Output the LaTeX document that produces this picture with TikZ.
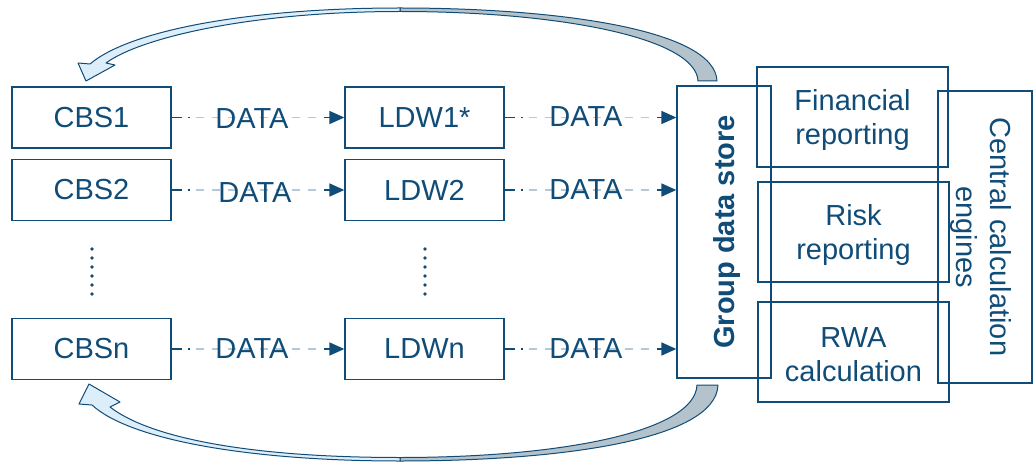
\documentclass[tikz,border=0pt]{standalone}
\usepackage{fontspec}
\setmainfont{Liberation Sans}
\usetikzlibrary{arrows.meta}
\definecolor{dkblue}{HTML}{104C78}
\definecolor{ltdash}{HTML}{B4C8D6}
\definecolor{ribgray}{HTML}{B3C2CB}
\definecolor{ribblue}{HTML}{DDEEFB}
\newcommand{\bigfont}{\fontsize{29}{34}\selectfont}
\begin{document}
\begin{tikzpicture}[x=1pt,y=-1pt,
  box/.style={draw=dkblue, line width=1.3pt, minimum width=159pt, minimum height=61pt, inner sep=0pt, text=dkblue, font=\bigfont, align=center},
  tallbox/.style={draw=dkblue, line width=1.3pt, minimum width=292pt, minimum height=94pt, inner sep=0pt},
  fbox/.style={draw=dkblue, line width=1.3pt, minimum width=191pt, minimum height=100pt, inner sep=0pt},
  ftext/.style={text=dkblue, font=\bigfont, align=center, inner sep=0pt},
  vtext/.style={text=dkblue, align=center, inner sep=0pt},
  datalabel/.style={text=dkblue, font=\bigfont, inner sep=0pt},
  dataflow/.style={draw=dkblue, line width=1.6pt, dash pattern=on 10pt off 6pt on 2.5pt off 400pt,
     preaction={draw=ltdash, line width=1.8pt, dash pattern=on 8pt off 8pt, shorten <=24pt, shorten >=24pt},
     postaction={draw=dkblue, line width=1.6pt, solid, shorten <=152pt, -{Triangle[length=15pt,width=13pt]}}},
  ribbon/.style={draw=dkblue, line width=1pt, line join=round},
  dotmark/.style={fill=dkblue}
]
\useasboundingbox (0,0) rectangle (1035,465);

% curved ribbons
\path[ribbon, fill=ribgray] (400,8) .. controls (560,8) and (715,30) .. (717,81) -- (698,81) .. controls (696,38) and (560,11.5) .. (400,11.5) -- cycle;
\path[ribbon, fill=ribblue] (400,8) .. controls (250,8) and (130,30) .. (90,64) -- (78,63) -- (86,81) -- (115,65) -- (106,63) .. controls (140,38) and (250,11.5) .. (400,11.5) -- cycle;
\path[ribbon, fill=ribgray] (400,461) .. controls (560,461) and (716,440) .. (718,385) -- (697,385) .. controls (695,432) and (560,457.5) .. (400,457.5) -- cycle;
\path[ribbon, fill=ribblue] (400,461) .. controls (250,461) and (130,440) .. (92,405) -- (79,404) -- (89,384) -- (120,402) -- (110,407) .. controls (150,438) and (250,457.5) .. (400,457.5) -- cycle;

% left boxes
\node[box] (cbs1) at (91.5,117.5) {CBS1};
\node[box] (cbs2) at (91.5,190) {CBS2};
\node[box] (cbsn) at (91.5,349) {CBSn};
\node[box] (ldw1) at (424.5,117.5) {LDW1*};
\node[box] (ldw2) at (424.5,190) {LDW2};
\node[box] (ldwn) at (424.5,349) {LDWn};

% group data store
\node[tallbox, rotate=90] (grp) at (724,232) {};
\node[vtext, rotate=90, font=\bfseries\bigfont] (grptext) at (727,232) {Group data store};

% reporting boxes
\node[fbox] (fin) at (852.5,117) {};
\node[fbox] (risk) at (853.5,232) {};
\node[fbox] (rwa) at (853.5,352) {};
\node[ftext] (fintext) at (852.5,120) {Financial\\reporting};
\node[ftext] (risktext) at (853.5,235) {Risk\\reporting};
\node[ftext] (rwatext) at (853.5,355) {RWA\\calculation};

% central calculation engines
\node[tallbox, rotate=-90] (cce) at (985,237) {};
\node[vtext, rotate=-90, font=\bigfont] (ccetext) at (980.5,237) {Central calculation\\engines};

% data flows
\draw[dataflow] (cbs1.east) -- (ldw1.west);
\draw[dataflow] (cbs2.east) -- (ldw2.west);
\draw[dataflow] (cbsn.east) -- (ldwn.west);
\draw[dataflow] (ldw1.east) -- (ldw1.east -| grp.north);
\draw[dataflow] (ldw2.east) -- (ldw2.east -| grp.north);
\draw[dataflow] (ldwn.east) -- (ldwn.east -| grp.north);

\node[datalabel] (d1) at (252,119) {DATA};
\node[datalabel] (d2) at (255,193) {DATA};
\node[datalabel] (d3) at (252,349) {DATA};
\node[datalabel] (d4) at (586,117) {DATA};
\node[datalabel] (d5) at (586,190) {DATA};
\node[datalabel] (d6) at (586,349) {DATA};

% vertical ellipsis dots
\foreach \yy in {249,258,267,276,285,294} {
  \fill[dotmark] (92,\yy) circle (1.8pt);
  \fill[dotmark] (425,\yy) circle (1.8pt);
}
\end{tikzpicture}
\end{document}
